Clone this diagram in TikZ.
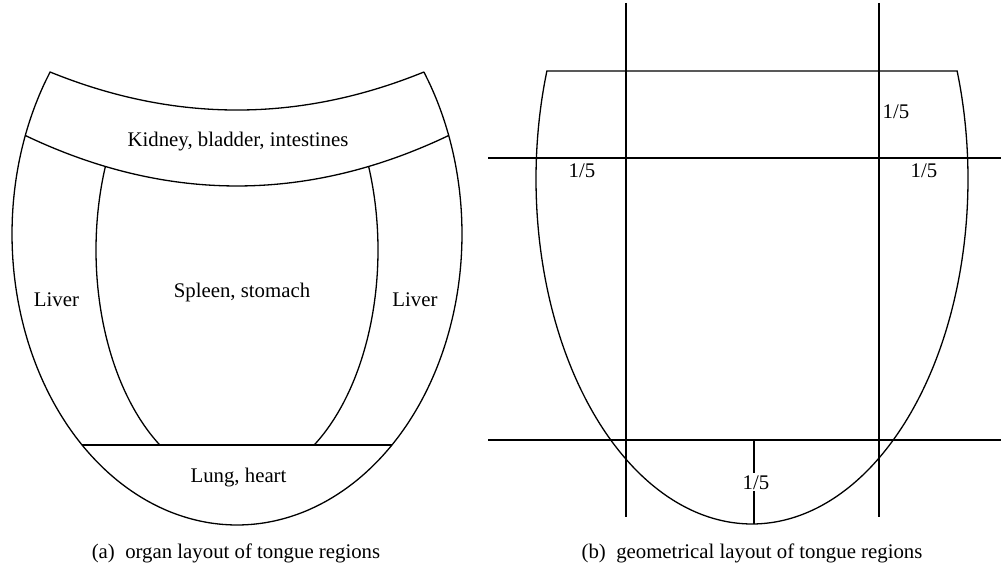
\documentclass[tikz,border=0pt]{standalone}
\usepackage{fontspec}
\setmainfont{Liberation Serif}
\usetikzlibrary{positioning}

\begin{document}
\begin{tikzpicture}[
  x={(0.5pt,0)},y={(0,-0.5pt)},
  every node/.style={font=\fontsize{10.4}{12}\selectfont},
  outline/.style={line width=0.65pt},
  lbl/.style={inner sep=0pt,anchor=base},
  frac/.style={lbl,fill=white,inner sep=1pt}]
\useasboundingbox (0,0) rectangle (1001,571);
% (a) organ layout
\draw[outline] plot[smooth,samples=90,variable=\t,domain=-33.83:213.83]
  ({237+225*cos(\t)},{234+291*sin(\t)})
  .. controls (174.7,122.7) and (299.3,122.7) .. (423.9,72);
\draw[outline] (25.3,135.5) .. controls (166.3,202.8) and (307.7,202.8) .. (448.7,135.5);
\draw[outline] plot[smooth,samples=50,variable=\t,domain=123.2:200.87]
  ({237+141*cos(\t)},{250+233*sin(\t)});
\draw[outline] plot[smooth,samples=50,variable=\t,domain=-20.87:56.8]
  ({237+141*cos(\t)},{250+233*sin(\t)});
\draw[outline] (82,445) -- (392,445);
\node[lbl] (kidney) at (238,147) {Kidney, bladder, intestines};
\node[lbl] (liverL) at (56.5,307) {Liver};
\node[lbl] (liverR) at (415,307) {Liver};
\node[lbl] (spleen) at (242,298) {Spleen, stomach};
\node[lbl] (lung) at (238.5,482) {Lung, heart};
\node[lbl] (capA) at (236,558) {(a)\enspace organ layout of tongue regions};
% (b) geometrical layout
\draw[outline] plot[smooth,samples=90,variable=\t,domain=-18.24:198.24]
  ({752+216*cos(\t)},{179+345*sin(\t)}) -- cycle;
\draw[outline] (626,3) -- (626,517);
\draw[outline] (879,3) -- (879,517);
\draw[outline] (488,158) -- (1001,158);
\draw[outline] (488,440) -- (1001,440);
\draw[outline] (754,440) -- (754,524);
\node[lbl] (fracL) at (582,178) {1/5};
\node[lbl] (fracR) at (924,178) {1/5};
\node[lbl] (fracT) at (896,119) {1/5};
\node[frac] (fracB) at (756,489) {1/5};
\node[lbl] (capB) at (752,558) {(b)\enspace geometrical layout of tongue regions};
\end{tikzpicture}
\end{document}
